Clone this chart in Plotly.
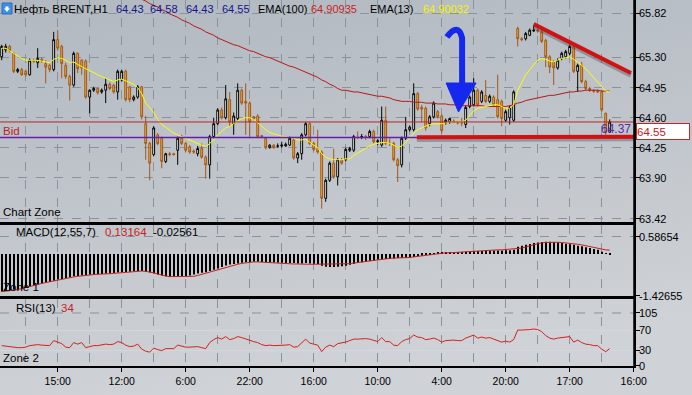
import base64
import plotly.graph_objects as go

# ---------------- data ----------------
opens = [65.31, 65.39, 65.43, 65.35, 65.14, 65.16, 65.14, 65.10, 65.27, 65.24,
         65.28, 65.23, 65.21, 65.16, 65.51, 65.43, 65.21, 65.08, 64.98, 65.35,
         65.27, 65.26, 64.84, 64.92, 64.94, 64.90, 64.92, 64.99, 64.98, 64.90,
         65.04, 65.14, 64.96, 64.81, 64.84, 64.96, 64.53, 64.30, 64.17, 64.40,
         64.36, 64.09, 64.18, 64.18, 64.22, 64.36, 64.30, 64.26, 64.21, 64.18,
         64.24, 64.14, 64.05, 64.38, 64.53, 64.69, 64.60, 64.81, 64.53, 64.59,
         64.92, 64.79, 64.77, 64.61, 64.62, 64.39, 64.36, 64.25, 64.28, 64.27,
         64.27, 64.27, 64.28, 64.34, 64.13, 64.18, 64.40, 64.53, 64.30, 64.24,
         64.20, 63.66, 63.87, 64.07, 63.91, 64.11, 64.11, 64.22, 64.22, 64.37,
         64.37, 64.38, 64.38, 64.44, 64.32, 64.28, 64.57, 64.30, 64.30, 64.11,
         64.05, 64.36, 64.46, 64.46, 64.88, 64.72, 64.71, 64.53, 64.61, 64.67,
         64.62, 64.54, 64.55, 64.56, 64.55, 64.54, 64.52, 64.73, 64.75, 64.92,
         64.79, 64.86, 64.79, 64.84, 64.81, 64.79, 64.57, 64.60, 64.57, 65.64,
         65.52, 65.52, 65.56, 65.61, 65.62, 65.60, 65.50, 65.31, 65.25, 65.18,
         65.29, 65.31, 65.35, 65.43, 65.14, 65.21, 65.02, 64.94, 64.92, 64.91,
         64.90, 64.65, 64.43]
highs = [65.45, 65.46, 65.45, 65.36, 65.18, 65.18, 65.16, 65.29, 65.29, 65.41,
         65.30, 65.27, 65.23, 65.60, 65.62, 65.45, 65.24, 65.10, 65.37, 65.36,
         65.28, 65.28, 64.93, 64.96, 64.95, 64.94, 65.06, 65.01, 64.99, 65.16,
         65.16, 65.16, 64.97, 64.86, 64.98, 64.97, 64.62, 64.32, 64.50, 64.42,
         64.38, 64.19, 64.20, 64.19, 64.38, 64.40, 64.32, 64.28, 64.23, 64.27,
         64.30, 64.16, 64.40, 64.60, 64.71, 64.72, 64.98, 64.90, 64.66, 65.00,
         64.94, 65.00, 64.79, 64.62, 64.64, 64.40, 64.37, 64.29, 64.29, 64.30,
         64.32, 64.31, 64.38, 64.36, 64.20, 64.42, 64.55, 64.55, 64.32, 64.46,
         64.22, 63.89, 64.09, 64.24, 64.13, 64.13, 64.25, 64.26, 64.40, 64.44,
         64.41, 64.40, 64.46, 64.46, 64.35, 64.73, 64.73, 64.36, 64.32, 64.13,
         64.38, 64.61, 64.51, 65.00, 64.90, 64.75, 64.73, 64.63, 64.79, 64.69,
         64.64, 64.59, 64.60, 64.58, 64.56, 64.60, 64.74, 64.86, 65.06, 64.94,
         64.92, 65.04, 64.87, 64.86, 65.10, 64.81, 64.69, 64.74, 64.92, 65.66,
         65.54, 65.60, 65.64, 65.68, 65.64, 65.62, 65.52, 65.33, 65.27, 65.29,
         65.37, 65.39, 65.45, 65.45, 65.23, 65.25, 65.04, 64.96, 64.93, 64.93,
         64.92, 64.66, 64.58]
lows = [65.27, 65.36, 65.36, 65.12, 65.12, 65.09, 65.08, 65.09, 65.24, 65.18,
        65.24, 65.00, 65.13, 65.14, 65.38, 65.06, 65.05, 64.80, 64.96, 65.12,
        65.10, 64.82, 64.65, 64.90, 64.87, 64.88, 64.77, 64.92, 64.88, 64.81,
        65.02, 64.79, 64.78, 64.79, 64.82, 64.58, 64.11, 63.87, 64.15, 64.28,
        64.01, 64.07, 64.15, 64.16, 64.05, 64.28, 64.20, 64.18, 64.18, 64.15,
        64.12, 63.89, 63.89, 64.36, 64.51, 64.58, 64.58, 64.50, 64.40, 64.57,
        64.75, 64.40, 64.36, 64.57, 64.36, 64.36, 64.23, 64.24, 64.24, 64.25,
        64.25, 64.26, 64.27, 64.11, 64.07, 64.11, 64.38, 64.28, 64.21, 64.18,
        63.54, 63.62, 63.85, 63.89, 63.81, 64.05, 64.09, 64.20, 64.20, 64.35,
        64.35, 64.34, 64.36, 64.30, 64.28, 64.26, 64.28, 64.27, 64.09, 63.85,
        64.02, 64.34, 64.44, 64.44, 64.68, 64.55, 64.45, 64.50, 64.59, 64.59,
        64.42, 64.52, 64.53, 64.54, 64.52, 64.50, 64.48, 64.71, 64.73, 64.73,
        64.77, 64.77, 64.77, 64.73, 64.59, 64.50, 64.55, 64.52, 64.55, 65.43,
        65.49, 65.50, 65.55, 65.60, 65.59, 65.47, 65.19, 65.12, 64.98, 65.16,
        65.27, 65.29, 65.33, 65.12, 64.90, 65.00, 64.92, 64.90, 64.89, 64.89,
        64.67, 64.40, 64.43]
closes = [65.43, 65.43, 65.38, 65.14, 65.16, 65.10, 65.10, 65.27, 65.26, 65.29,
          65.26, 65.19, 65.16, 65.51, 65.41, 65.23, 65.08, 64.98, 65.35, 65.17,
          65.18, 64.84, 64.92, 64.94, 64.89, 64.92, 64.99, 64.94, 64.90, 65.14,
          65.14, 64.81, 64.81, 64.84, 64.96, 64.61, 64.30, 64.07, 64.48, 64.30,
          64.09, 64.18, 64.17, 64.17, 64.36, 64.30, 64.22, 64.20, 64.20, 64.24,
          64.14, 64.05, 64.38, 64.53, 64.69, 64.60, 64.82, 64.55, 64.62, 64.92,
          64.77, 64.77, 64.55, 64.59, 64.38, 64.38, 64.25, 64.28, 64.25, 64.27,
          64.28, 64.29, 64.36, 64.13, 64.18, 64.40, 64.53, 64.30, 64.23, 64.20,
          63.66, 63.87, 64.07, 63.91, 64.11, 64.07, 64.23, 64.24, 64.38, 64.37,
          64.38, 64.37, 64.44, 64.32, 64.33, 64.57, 64.30, 64.30, 64.11, 64.04,
          64.36, 64.46, 64.49, 64.88, 64.70, 64.70, 64.48, 64.61, 64.77, 64.61,
          64.45, 64.57, 64.59, 64.55, 64.54, 64.54, 64.72, 64.84, 64.92, 64.75,
          64.90, 64.79, 64.85, 64.75, 64.61, 64.59, 64.67, 64.72, 64.90, 65.52,
          65.51, 65.58, 65.62, 65.62, 65.61, 65.49, 65.31, 65.19, 65.18, 65.27,
          65.35, 65.37, 65.43, 65.14, 65.21, 65.02, 64.94, 64.92, 64.91, 64.90,
          64.69, 64.43, 64.55]

ema13 = [65.41, 65.41, 65.38, 65.35, 65.31, 65.29, 65.27, 65.27, 65.27, 65.27,
         65.26, 65.25, 65.24, 65.28, 65.30, 65.29, 65.27, 65.24, 65.25, 65.22,
         65.19, 65.17, 65.15, 65.12, 65.10, 65.08, 65.06, 65.04, 65.02, 65.04,
         65.05, 65.03, 65.01, 64.99, 64.95, 64.88, 64.77, 64.71, 64.66, 64.58,
         64.52, 64.49, 64.45, 64.42, 64.40, 64.38, 64.36, 64.34, 64.32, 64.30,
         64.28, 64.26, 64.30, 64.34, 64.40, 64.44, 64.48, 64.50, 64.53, 64.57,
         64.59, 64.60, 64.60, 64.58, 64.54, 64.49, 64.46, 64.43, 64.41, 64.40,
         64.38, 64.38, 64.37, 64.36, 64.34, 64.34, 64.35, 64.31, 64.28, 64.25,
         64.18, 64.14, 64.12, 64.11, 64.11, 64.11, 64.12, 64.12, 64.16, 64.19,
         64.22, 64.24, 64.27, 64.29, 64.30, 64.31, 64.31, 64.30, 64.28, 64.25,
         64.27, 64.31, 64.36, 64.42, 64.46, 64.48, 64.50, 64.52, 64.53, 64.53,
         64.53, 64.54, 64.55, 64.55, 64.55, 64.55, 64.57, 64.62, 64.68, 64.71,
         64.72, 64.73, 64.74, 64.75, 64.75, 64.73, 64.71, 64.71, 64.75, 64.92,
         65.01, 65.10, 65.16, 65.22, 65.27, 65.29, 65.28, 65.26, 65.25, 65.27,
         65.29, 65.30, 65.31, 65.28, 65.25, 65.21, 65.17, 65.12, 65.07, 65.02,
         64.97, 64.91, 64.90]

EMA100_START = 34
ema100 = [66.00, 65.98, 65.96, 65.93, 65.91, 65.89, 65.86, 65.84, 65.81, 65.79,
          65.77, 65.74, 65.72, 65.70, 65.67, 65.65, 65.63, 65.60, 65.58, 65.56,
          65.53, 65.51, 65.49, 65.47,
          65.45, 65.44, 65.42, 65.40, 65.38, 65.37, 65.35, 65.33, 65.31, 65.30, 65.28, 65.26,
          65.24, 65.22, 65.20, 65.19, 65.17, 65.15,
          65.13, 65.11, 65.09, 65.07,
          65.04, 65.02, 64.99, 64.97, 64.94, 64.92,
          64.92, 64.91, 64.90, 64.90,
          64.89, 64.88, 64.87, 64.86,
          64.85, 64.85, 64.84,
          64.83, 64.81, 64.80, 64.79,
          64.79, 64.79, 64.78,
          64.78, 64.78, 64.77, 64.77,
          64.77, 64.76, 64.76, 64.76, 64.75, 64.75, 64.75, 64.74,
          64.74, 64.74, 64.74, 64.74, 64.74, 64.73, 64.73, 64.73, 64.73,
          64.73, 64.73, 64.74, 64.75,
          64.77, 64.78, 64.80, 64.81,
          64.82, 64.83, 64.84, 64.85,
          64.86, 64.86, 64.87, 64.88,
          64.89, 64.90, 64.90, 64.91,
          64.91, 64.92, 64.92, 64.92,
          64.92, 64.91, 64.91, 64.91]

macd_hist = [-1.28, -1.26, -1.24, -1.22, -1.20, -1.17, -1.14, -1.11, -1.07, -1.04,
             -1.00, -0.98, -0.95, -0.91, -0.87, -0.85, -0.82, -0.80, -0.76, -0.75,
             -0.73, -0.72, -0.71, -0.70, -0.69, -0.68, -0.67, -0.66, -0.65, -0.63,
             -0.62, -0.61, -0.60, -0.59, -0.58, -0.58, -0.60, -0.63, -0.66, -0.70,
             -0.73, -0.76, -0.77, -0.77, -0.77, -0.76, -0.75, -0.73, -0.70, -0.66,
             -0.64, -0.62, -0.58, -0.54, -0.49, -0.44, -0.39, -0.36, -0.34, -0.32,
             -0.30, -0.28, -0.27, -0.26, -0.26, -0.27, -0.28, -0.29, -0.29, -0.30,
             -0.30, -0.31, -0.31, -0.31, -0.32, -0.32, -0.31, -0.32, -0.33, -0.34,
             -0.40, -0.43, -0.44, -0.44, -0.43, -0.42, -0.40, -0.37, -0.33, -0.30,
             -0.28, -0.26, -0.24, -0.22, -0.20, -0.18, -0.17, -0.16, -0.15, -0.14,
             -0.14, -0.13, -0.12, -0.10, -0.08, -0.06, -0.03, -0.01, 0.02, 0.05,
             0.05, 0.06, 0.06, 0.06, 0.06, 0.07, 0.08, 0.09, 0.10, 0.10,
             0.10, 0.11, 0.11, 0.12, 0.12, 0.12, 0.13, 0.13, 0.14, 0.25,
             0.28, 0.31, 0.34, 0.37, 0.39, 0.41, 0.42, 0.42, 0.41, 0.39,
             0.37, 0.35, 0.33, 0.31, 0.28, 0.26, 0.23, 0.20, 0.17, 0.14,
             0.08, 0.02, -0.03]
macd_signal = [-1.28, -1.27, -1.25, -1.23, -1.21, -1.18, -1.15, -1.12, -1.08, -1.04,
               -1.00, -0.97, -0.94, -0.91, -0.88, -0.85, -0.82, -0.80, -0.78, -0.76,
               -0.74, -0.72, -0.71, -0.70, -0.69, -0.69, -0.68, -0.67, -0.66, -0.65,
               -0.63, -0.62, -0.60, -0.59, -0.58, -0.58, -0.59, -0.61, -0.64, -0.68,
               -0.72, -0.75, -0.77, -0.77, -0.77, -0.77, -0.77, -0.77, -0.76, -0.73,
               -0.69, -0.65, -0.61, -0.57, -0.53, -0.49, -0.45, -0.41, -0.38, -0.35,
               -0.32, -0.30, -0.28, -0.27, -0.27, -0.28, -0.29, -0.30, -0.30, -0.31,
               -0.32, -0.33, -0.34, -0.34, -0.34, -0.35, -0.35, -0.35, -0.35, -0.35,
               -0.35, -0.35, -0.35, -0.35, -0.35, -0.35, -0.34, -0.33, -0.31, -0.29,
               -0.27, -0.25, -0.23, -0.21, -0.19, -0.17, -0.16, -0.15, -0.14, -0.14,
               -0.14, -0.13, -0.12, -0.10, -0.08, -0.06, -0.04, -0.02, 0.00, 0.02,
               0.03, 0.04, 0.04, 0.05, 0.05, 0.05, 0.06, 0.07, 0.08, 0.09,
               0.10, 0.11, 0.12, 0.13, 0.14, 0.14, 0.15, 0.15, 0.16, 0.17,
               0.20, 0.24, 0.28, 0.32, 0.35, 0.38, 0.39, 0.40, 0.40, 0.40,
               0.39, 0.38, 0.37, 0.35, 0.33, 0.31, 0.28, 0.25, 0.22, 0.19,
               0.16, 0.14, 0.13]

rsi = [40, 39, 37, 36, 36, 36, 37, 40, 41, 42,
       41, 40, 40, 50, 47, 44, 37, 36, 46, 43,
       46, 36, 38, 40, 40, 41, 43, 42, 43, 48,
       46, 41, 38, 39, 43, 33, 29, 27, 35, 32,
       30, 34, 34, 34, 41, 39, 37, 37, 37, 38,
       36, 34, 46, 52, 56, 53, 58, 52, 54, 58,
       56, 53, 50, 48, 46, 42, 40, 41, 40, 40,
       40, 41, 42, 37, 38, 45, 53, 45, 43, 41,
       28, 37, 41, 38, 44, 45, 47, 50, 53, 53,
       54, 54, 53, 50, 48, 56, 48, 48, 41, 40,
       48, 52, 54, 61, 57, 56, 52, 53, 55, 52,
       47, 50, 51, 51, 50, 50, 55, 58, 61, 55,
       57, 55, 56, 53, 50, 47, 49, 47, 52, 71,
       71, 71, 72, 73, 72, 68, 60, 55, 53, 55,
       56, 56, 58, 47, 51, 46, 43, 42, 40, 40,
       33, 28, 34]

tick_idx = [14, 30, 46, 62, 78, 94, 110, 126, 142, 158]
tick_labels = ["15:00", "12:00", "6:00", "22:00", "16:00", "10:00", "4:00", "20:00", "17:00", "16:00"]
grid_idx = list(range(6, 159, 8))

price_ticks = [65.82, 65.30, 64.95, 64.60, 64.25, 63.90, 63.42]
price_tick_labels = ["65.82", "65.30", "64.95", "64.60", "64.25", "63.90", "63.42"]
macd_ticks = [0.58654, -1.42655]
macd_tick_labels = ["0.58654", "-1.42655"]
rsi_ticks = [105, 70, 30, 0]
rsi_tick_labels = ["105", "70", "30", "0"]

bid_price = 64.55
ask_line_price = 64.37
header_ohlc = ["64.43", "64.58", "64.43", "64.55"]
ema100_last = "64.90935"
ema13_last = "64.90032"
macd_vals = ["0.13164", "-0.02561"]
rsi_last = "34"

# trend lines (bar index, price)
trend_upper = [(133.0, 65.69), (157.3, 65.12)]
trend_lower = [(103.8, 64.371), (158.2, 64.378)]

# ---------------- figure ----------------
FONT = "Liberation Sans, Arial, sans-serif"
PW, PH = 634.0, 366.0


def px(x):
    return x / PW


def py(y):
    return 1 - y / PH


idx = list(range(len(closes)))
fig = go.Figure()

fig.add_trace(go.Candlestick(
    x=idx, open=opens, high=highs, low=lows, close=closes,
    increasing=dict(line=dict(color="#000000", width=1), fillcolor="#ffffff"),
    decreasing=dict(line=dict(color="#a0581a", width=1), fillcolor="#f7a52c"),
    whiskerwidth=0, xaxis="x", yaxis="y", hoverinfo="skip", showlegend=False))
fig.add_trace(go.Scatter(
    x=list(range(EMA100_START, EMA100_START + len(ema100))), y=ema100, mode="lines",
    line=dict(color="#b81818", width=1), xaxis="x", yaxis="y", hoverinfo="skip", showlegend=False))
fig.add_trace(go.Scatter(
    x=list(range(len(ema13))), y=ema13, mode="lines",
    line=dict(color="#ffff00", width=1), xaxis="x", yaxis="y", hoverinfo="skip", showlegend=False))
fig.add_trace(go.Bar(
    x=list(range(len(macd_hist))), y=macd_hist, width=0.22,
    marker=dict(color="#000000", line=dict(width=0)), xaxis="x2", yaxis="y2",
    hoverinfo="skip", showlegend=False))
fig.add_trace(go.Scatter(
    x=list(range(len(macd_signal))), y=macd_signal, mode="lines",
    line=dict(color="#c81e1e", width=1), xaxis="x2", yaxis="y2", hoverinfo="skip", showlegend=False))
fig.add_trace(go.Scatter(
    x=list(range(len(rsi))), y=rsi, mode="lines",
    line=dict(color="#d42020", width=1), xaxis="x3", yaxis="y3", hoverinfo="skip", showlegend=False))

GRID = "#8a929c"
x_range = [-0.425, 158.075]


def xax(labels, anchor, mirror):
    return dict(range=x_range, anchor=anchor, tickmode="array", tickvals=tick_idx, ticktext=tick_labels,
                showticklabels=labels, ticks="outside" if labels else "", ticklen=4, tickcolor="#000000",
                tickfont=dict(size=10.5, color="#000000", family=FONT),
                showgrid=True, gridcolor=GRID, griddash="dash", gridwidth=1,
                minor=dict(tickvals=grid_idx, showgrid=True, gridcolor=GRID, griddash="dash", gridwidth=1, ticks=""),
                showline=True, linecolor="#000000", linewidth=2, mirror=mirror, zeroline=False, fixedrange=True)


def yax(domain, rng, tv, tt, anchor, grid=True):
    return dict(domain=domain, range=rng, side="right", anchor=anchor, tickmode="array", tickvals=tv, ticktext=tt,
                ticks="outside", ticklen=4, tickcolor="#000000", tickfont=dict(size=11, color="#000000", family=FONT),
                ticklabelstandoff=-3,
                showgrid=grid, gridcolor=GRID, griddash="dash", gridwidth=1,
                showline=True, linecolor="#000000", linewidth=1.5, mirror=False, zeroline=False, fixedrange=True)


xa1 = xax(False, "y", False)
xa1["rangeslider"] = dict(visible=False)

svg = ("<svg xmlns='http://www.w3.org/2000/svg' width='692' height='395'>"
       "<defs><linearGradient id='g' x1='0' y1='0' x2='0.25' y2='1'>"
       "<stop offset='0' stop-color='#b1b8c0'/><stop offset='1' stop-color='#cfd2d6'/>"
       "</linearGradient></defs><rect width='692' height='395' fill='url(#g)'/></svg>")
bg_src = "data:image/svg+xml;base64," + base64.b64encode(svg.encode()).decode()

shapes = []
# Bid and ask lines
shapes.append(dict(type="line", xref="x", yref="y", x0=x_range[0], x1=x_range[1], y0=bid_price, y1=bid_price,
                   line=dict(color="#b02828", width=1), layer="above"))
shapes.append(dict(type="line", xref="x", yref="y", x0=x_range[0], x1=x_range[1], y0=ask_line_price, y1=ask_line_price,
                   line=dict(color="#6420a8", width=1.5), layer="above"))
# trend lines with soft shadow
for (a, b) in (trend_upper, trend_lower):
    shapes.append(dict(type="line", xref="x", yref="y", x0=a[0], y0=a[1] - 0.025, x1=b[0], y1=b[1] - 0.025,
                       line=dict(color="rgba(40,40,50,0.30)", width=5), layer="above"))
    shapes.append(dict(type="line", xref="x", yref="y", x0=a[0], y0=a[1], x1=b[0], y1=b[1],
                       line=dict(color="#d01212", width=4), layer="above"))
# blue arrow
shapes.append(dict(type="path", xref="x", yref="y",
                   path="M 111.3,65.540 Q 114.1,65.715 115.1,65.529 L 115.1,64.97",
                   line=dict(color="#1428f0", width=6), layer="above"))
shapes.append(dict(type="path", xref="x", yref="y",
                   path="M 111.1,65.004 L 118.6,65.004 L 114.2,64.666 Z",
                   fillcolor="#1428f0", line=dict(color="#1428f0", width=1), layer="above"))
# RSI levels
for lvl, col, dash in ((105, GRID, "dash"), (70, "#d4d7db", "solid"), (30, "#d4d7db", "solid")):
    shapes.append(dict(type="line", xref="x3", yref="y3", x0=x_range[0], x1=x_range[1], y0=lvl, y1=lvl,
                       line=dict(color=col, width=1, dash=dash), layer="below"))
# continuous right axis line
shapes.append(dict(type="line", xref="paper", yref="paper", x0=1, x1=1, y0=0, y1=1,
                   line=dict(color="#000000", width=1.5)))
# header icon
shapes.append(dict(type="rect", xref="paper", yref="paper", x0=px(2), x1=px(12), y0=py(14), y1=py(3),
                   fillcolor="#3b8fe2", line=dict(color="#2a6fc0", width=1)))
shapes.append(dict(type="path", xref="paper", yref="paper",
                   path=f"M {px(5.5)},{py(6.5)} L {px(8.5)},{py(6.5)} L {px(8.5)},{py(8.5)} L {px(10)},{py(8.5)} "
                        f"L {px(7)},{py(12)} L {px(4)},{py(8.5)} L {px(5.5)},{py(8.5)} Z",
                   fillcolor="#ffffff", line=dict(width=0)))

ann = []


def text(x, y, s, color="#000000", size=11, anchor="left"):
    ann.append(dict(x=px(x), y=py(y), xref="paper", yref="paper", text=s, showarrow=False,
                    xanchor=anchor, yanchor="middle", font=dict(size=size, color=color, family=FONT)))


NAVY = "#14148c"
text(12, 9, "Нефть BRENT,H1", size=11.5)
for xx, s in zip([114, 148, 184, 220], header_ohlc):
    text(xx, 9, s, NAVY, 11)
text(256, 9, "EMA(100)", size=11)
text(309, 9, ema100_last, "#c81e1e", 11)
text(368, 9, "EMA(13)", size=11)
text(421, 9, ema13_last, "#f2f200", 11)
text(1, 212, "Chart Zone", size=11.5)
text(1, 131, "Bid", "#c02020", 11.5)
text(633, 129, f"{ask_line_price:.2f}", "#5a2aa8", 12, "right")
text(14, 232, "MACD(12,55,7)", size=11.5)
text(103, 232, macd_vals[0], "#c81e1e", 11.5)
text(151, 232, macd_vals[1], size=11.5)
text(1, 287, "Zone 1", size=11.5)
text(14, 308, "RSI(13)", size=11.5)
text(59, 308, rsi_last, "#c81e1e", 11.5)
text(1, 358, "Zone 2", size=11.5)
ann.append(dict(x=px(636), y=py(132), xref="paper", yref="paper", text=f"{bid_price:.2f}", showarrow=False,
                xanchor="left", yanchor="middle", align="left", width=52, height=15,
                bgcolor="#ffffff", bordercolor="#c02828", borderwidth=1, borderpad=0,
                font=dict(size=11.5, color="#c02020", family=FONT)))

fig.update_layout(
    width=692, height=395, margin=dict(l=0, r=58, t=0, b=29),
    paper_bgcolor="#c0c5cb", plot_bgcolor="rgba(0,0,0,0)",
    font=dict(family=FONT, size=11, color="#000000"),
    showlegend=False, hovermode=False, boxgap=0.35,
    xaxis=xa1,
    xaxis2=dict(xax(False, "y2", True), matches="x"),
    xaxis3=dict(xax(True, "y3", True), matches="x"),
    yaxis=yax([0.3934, 1.0], [63.384, 65.9715], price_ticks, price_tick_labels, "x"),
    yaxis2=yax([0.1913, 0.3852], [-1.428, 0.9846], macd_ticks, macd_tick_labels, "x2"),
    yaxis3=yax([0.0, 0.1817], [-0.6, 131.9], rsi_ticks, rsi_tick_labels, "x3", grid=False),
    shapes=shapes, annotations=ann,
    images=[dict(source=bg_src, xref="paper", yref="paper", x=0, y=1, sizex=692 / PW, sizey=395 / PH,
                 xanchor="left", yanchor="top", sizing="stretch", layer="below")],
)

fig.write_html("out.html", config={"displayModeBar": False},
               post_script="document.body.style.margin='0px';document.body.style.overflow='hidden';")
